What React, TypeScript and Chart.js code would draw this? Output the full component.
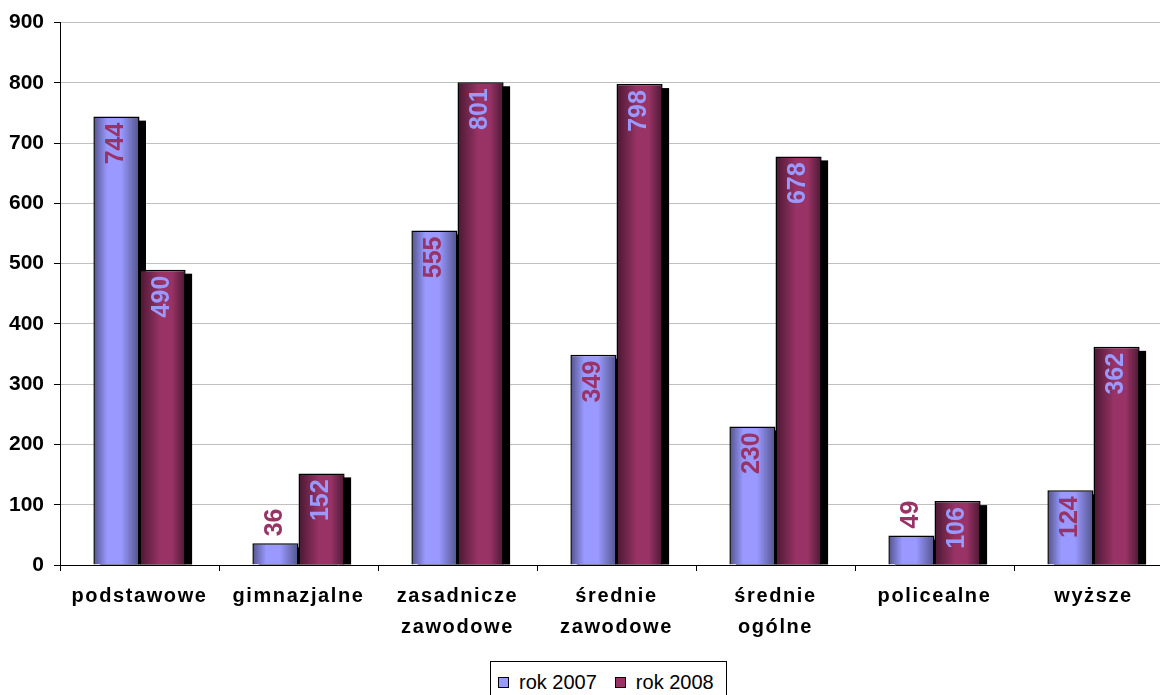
import React, { useEffect, useRef } from 'react';
import { Chart, registerables } from 'chart.js';

Chart.register(...registerables);

const categories: string[][] = [
  ['podstawowe'],
  ['gimnazjalne'],
  ['zasadnicze', 'zawodowe'],
  ['średnie', 'zawodowe'],
  ['średnie', 'ogólne'],
  ['policealne'],
  ['wyższe'],
];
const seriesNames = ['rok 2007', 'rok 2008'];
const values2007 = [744, 36, 555, 349, 230, 49, 124];
const values2008 = [490, 152, 801, 798, 678, 106, 362];
const yMin = 0;
const yMax = 900;
const yStep = 100;

const seriesLight = ['#9999ff', '#993366'];
const seriesDark = ['#52528a', '#4a1832'];
const highlightStops = [
  [0.3, 0.6],
  [0.45, 0.7],
];
const labelColors = ['#993366', '#9999ff'];

const CAT_PCT = 0.58;
const BAR_PCT = 1.0;
const FONT = '"Liberation Sans", Arial, sans-serif';

function gradientFor(di: number) {
  return (c: any) => {
    const chart = c.chart;
    const xs = chart.scales && chart.scales.x;
    if (!xs || c.dataIndex == null || c.type !== 'data') return seriesLight[di];
    const catW = xs.width / categories.length;
    const barW = (catW * CAT_PCT * BAR_PCT) / 2;
    const center = xs.getPixelForValue(c.dataIndex);
    const left = center - barW + c.datasetIndex * barW;
    if (!isFinite(left) || !isFinite(barW) || barW <= 0) return seriesLight[di];
    const g = chart.ctx.createLinearGradient(left, 0, left + barW, 0);
    g.addColorStop(0, seriesDark[di]);
    g.addColorStop(highlightStops[di][0], seriesLight[di]);
    g.addColorStop(highlightStops[di][1], seriesLight[di]);
    g.addColorStop(1, seriesDark[di]);
    return g;
  };
}

const barExtras = {
  id: 'barExtras',
  afterLayout(chart: any) {
    const s = chart.scales.x;
    if (s && !s.__ls) {
      const orig = s.drawLabels;
      s.drawLabels = function (ca: any) {
        const c = this.ctx;
        c.save();
        c.letterSpacing = '1.6px';
        orig.call(this, ca);
        c.restore();
      };
      s.__ls = true;
    }
  },
  beforeDatasetsDraw(chart: any) {
    const ctx = chart.ctx;
    ctx.save();
    ctx.fillStyle = '#000';
    chart.data.datasets.forEach((_: any, di: number) => {
      const meta = chart.getDatasetMeta(di);
      meta.data.forEach((bar: any) => {
        const { x, y, base, width } = bar.getProps(['x', 'y', 'base', 'width'], true);
        const left = x - width / 2;
        const top = y + 4;
        if (base > top) ctx.fillRect(left + 6.5, top, width, base - top);
      });
    });
    ctx.restore();
  },
  afterDatasetsDraw(chart: any) {
    const ctx = chart.ctx;
    ctx.save();
    ctx.font = `bold 25px ${FONT}`;
    ctx.textBaseline = 'middle';
    chart.data.datasets.forEach((ds: any, di: number) => {
      const meta = chart.getDatasetMeta(di);
      meta.data.forEach((bar: any, i: number) => {
        const { x, y, base } = bar.getProps(['x', 'y', 'base'], true);
        const text = String(ds.data[i]);
        const w = ctx.measureText(text).width;
        const h = base - y;
        ctx.save();
        ctx.fillStyle = labelColors[di];
        if (h >= w + 16) {
          ctx.translate(x - 0.5, y + 6);
          ctx.rotate(-Math.PI / 2);
          ctx.textAlign = 'right';
        } else {
          ctx.translate(x - 0.5, y - 7);
          ctx.rotate(-Math.PI / 2);
          ctx.textAlign = 'left';
        }
        ctx.fillText(text, 0, 0);
        ctx.restore();
      });
    });
    ctx.restore();
  },
};

export default function App() {
  const ref = useRef<HTMLCanvasElement | null>(null);

  useEffect(() => {
    if (!ref.current) return;
    const chart = new Chart(ref.current, {
      type: 'bar',
      data: {
        labels: categories,
        datasets: [
          {
            label: seriesNames[0],
            data: values2007,
            backgroundColor: gradientFor(0),
            borderColor: '#000',
            borderWidth: 1.5,
            categoryPercentage: CAT_PCT,
            barPercentage: BAR_PCT,
          },
          {
            label: seriesNames[1],
            data: values2008,
            backgroundColor: gradientFor(1),
            borderColor: '#000',
            borderWidth: 1.5,
            categoryPercentage: CAT_PCT,
            barPercentage: BAR_PCT,
          },
        ],
      },
      options: {
        responsive: false,
        devicePixelRatio: 1,
        animation: false,
        layout: { padding: { top: 22, right: 3, left: 0, bottom: 0 } },
        plugins: {
          legend: { display: false },
          tooltip: { enabled: false },
        },
        scales: {
          x: {
            grid: {
              display: true,
              drawOnChartArea: false,
              drawTicks: true,
              tickLength: 6,
              tickColor: '#000',
              offset: true,
            },
            border: { color: '#000', width: 1 },
            ticks: {
              color: '#000',
              padding: 10,
              maxRotation: 0,
              autoSkip: false,
              font: { family: FONT, size: 20, weight: 'bold', lineHeight: '31px' },
            },
            afterFit(scale: any) {
              scale.height = 130;
            },
          },
          y: {
            min: yMin,
            max: yMax,
            ticks: {
              stepSize: yStep,
              color: '#000',
              padding: 10,
              font: { family: FONT, size: 21, weight: 'bold' },
            },
            grid: {
              color: '#c0c0c0',
              tickColor: '#000',
              tickLength: 6,
              lineWidth: 1,
            },
            border: { color: '#000', width: 1 },
            afterFit(scale: any) {
              scale.width = 60;
            },
          },
        },
      },
      plugins: [barExtras],
    } as any);
    return () => chart.destroy();
  }, []);

  const legendItem = (i: number) => (
    <div style={{ display: 'flex', alignItems: 'center' }}>
      <span
        style={{
          display: 'inline-block',
          width: 11,
          height: 11,
          boxSizing: 'border-box',
          border: '1.5px solid #000',
          background: seriesLight[i],
          marginRight: 10,
        }}
      />
      <span>{seriesNames[i]}</span>
    </div>
  );

  return (
    <div
      style={{
        position: 'fixed',
        left: 0,
        top: 0,
        width: 1160,
        height: 695,
        overflow: 'hidden',
        background: '#fff',
      }}
    >
      <canvas ref={ref} width={1176} height={695} style={{ display: 'block', width: 1176, height: 695 }} />
      <div
        style={{
          position: 'absolute',
          left: 490,
          top: 661,
          width: 237,
          height: 42,
          boxSizing: 'border-box',
          border: '1px solid #000',
          background: '#fff',
          display: 'flex',
          alignItems: 'center',
          paddingLeft: 7,
          gap: 18,
          font: `20px ${FONT}`,
          color: '#000',
          lineHeight: '20px',
        }}
      >
        {legendItem(0)}
        {legendItem(1)}
      </div>
    </div>
  );
}
